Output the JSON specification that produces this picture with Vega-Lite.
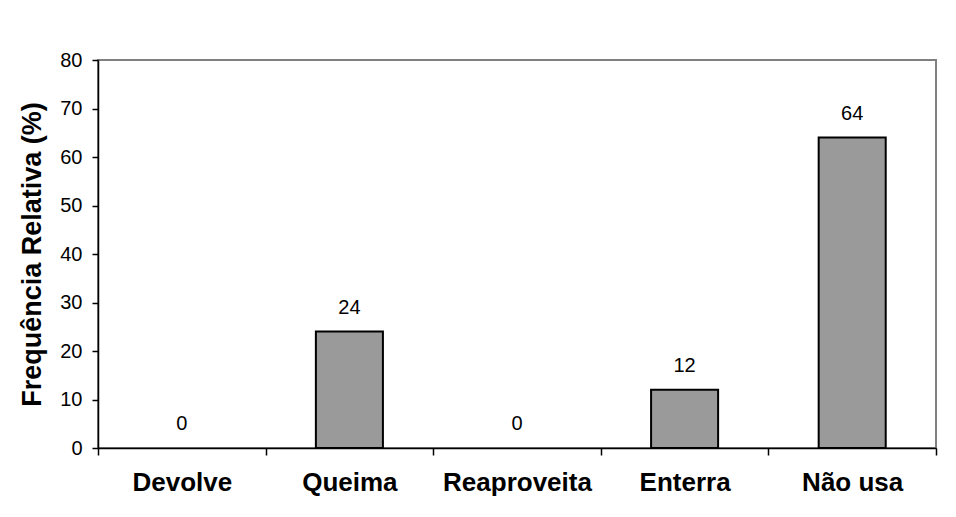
{
  "$schema": "https://vega.github.io/schema/vega-lite/v6.json",
  "width": 838,
  "height": 388,
  "autosize": {"type": "none"},
  "padding": {"left": 98, "top": 60, "right": 20, "bottom": 69},
  "background": "white",
  "config": {
    "view": {"stroke": "#808080", "strokeWidth": 2},
    "font": "Liberation Sans"
  },
  "data": {
    "values": [
      {"cat": "Devolve", "v": 0},
      {"cat": "Queima", "v": 24},
      {"cat": "Reaproveita", "v": 0},
      {"cat": "Enterra", "v": 12},
      {"cat": "Não usa", "v": 64}
    ]
  },
  "encoding": {
    "x": {
      "field": "cat", "type": "nominal", "sort": null,
      "scale": {"domain": ["Devolve", "Queima", "Reaproveita", "Enterra", "Não usa"], "paddingInner": 0, "paddingOuter": 0},
      "axis": {
        "title": null, "labelAngle": 0, "labelFont": "Liberation Sans",
        "labelFontSize": 26, "labelFontWeight": "bold", "labelColor": "black",
        "labelPadding": 14, "tickBand": "extent", "tickSize": 7,
        "tickColor": "black", "domainColor": "black", "domainWidth": 1.5, "tickWidth": 1.5
      }
    },
    "y": {
      "field": "v", "type": "quantitative",
      "scale": {"domain": [0, 80], "nice": false},
      "axis": {
        "title": "Frequência Relativa (%)", "titleFontSize": 27, "titleFontWeight": "bold",
        "titleColor": "black", "titlePadding": 13, "titleFont": "Liberation Sans",
        "values": [0, 10, 20, 30, 40, 50, 60, 70, 80], "grid": false,
        "labelFontSize": 20, "labelColor": "black", "labelPadding": 10,
        "tickSize": 6, "tickColor": "black", "domainColor": "black",
        "domainWidth": 1.5, "tickWidth": 1.5
      }
    }
  },
  "layer": [
    {
      "mark": {"type": "bar", "width": {"band": 0.4}, "fill": "#9a9a9a", "stroke": "black", "strokeWidth": 2},
      "transform": [{"filter": "datum.v > 0"}]
    },
    {
      "mark": {"type": "text", "baseline": "alphabetic", "dy": -18, "fontSize": 20, "color": "black"},
      "encoding": {"text": {"field": "v", "type": "quantitative"}}
    }
  ]
}
